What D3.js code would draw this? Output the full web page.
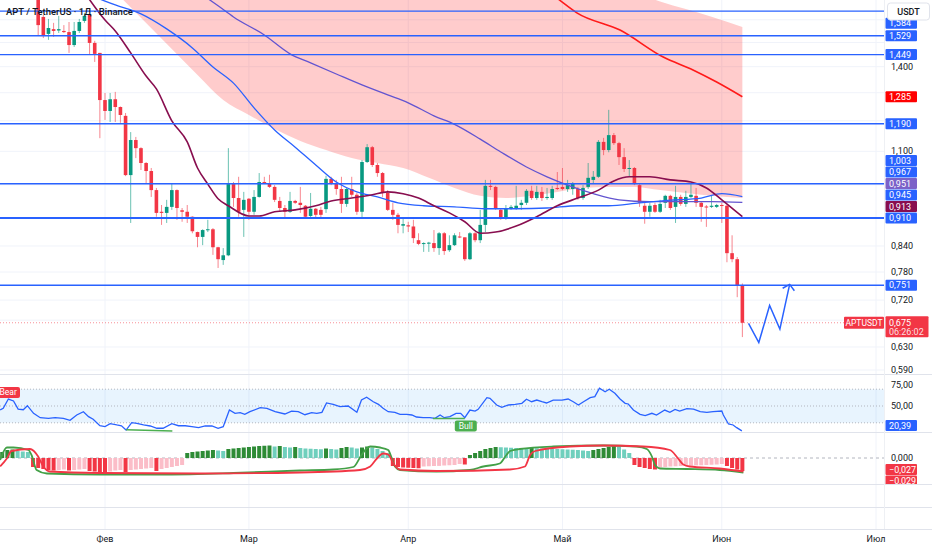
<!DOCTYPE html>
<html>
<head>
<meta charset="utf-8">
<script src="https://cdn.jsdelivr.net/npm/d3@7"></script>
<style>
body { margin: 0; background: #fff; }
svg { display: block; font-family: Roboto, "Noto Sans", sans-serif; }
</style>
</head>
<body>
<div id="container"></div>
<script>
//CANDLES (daily, first candle 19 Jan)
const firstCandle = '2025-01-19'
const opens = [1.72, 1.613, 1.537, 1.558, 1.552, 1.550, 1.545, 1.489, 1.550, 1.595,
  1.622, 1.498, 1.456, 1.273, 1.234, 1.276, 1.248, 1.217, 1.028, 1.136,
  1.110, 1.064, 1.040, 0.985, 0.926, 0.923, 0.939, 0.985, 0.930, 0.926,
  0.913, 0.874, 0.862, 0.879, 0.881, 0.837, 0.807, 0.818, 1.002, 0.963,
  0.931, 0.961, 0.926, 0.966, 1.008, 1.005, 0.994, 0.955, 0.936, 0.926,
  0.955, 0.950, 0.942, 0.915, 0.934, 0.931, 0.933, 1.017, 1.005, 0.988,
  0.947, 0.988, 0.972, 0.926, 1.067, 1.113, 1.058, 1.034, 0.977, 0.931,
  0.918, 0.890, 0.891, 0.888, 0.854, 0.845, 0.846, 0.847, 0.835, 0.871,
  0.830, 0.842, 0.863, 0.861, 0.809, 0.871, 0.854, 0.892, 0.997, 0.994,
  0.931, 0.910, 0.936, 0.936, 0.944, 0.950, 0.983, 0.963, 0.980, 0.963,
  0.963, 0.991, 0.994, 0.988, 0.988, 0.988, 0.963, 0.994, 1.014, 1.023,
  1.130, 1.104, 1.152, 1.126, 1.082, 1.046, 1.049, 0.999, 0.942, 0.926,
  0.944, 0.926, 0.950, 0.969, 0.939, 0.966, 0.947, 0.966, 0.969, 0.950,
  0.940, 0.939, 0.939, 0.944, 0.942, 0.823, 0.809, 0.751]
const highs = [1.76, 1.622, 1.604, 1.586, 1.618, 1.576, 1.590, 1.590, 1.604, 1.632,
  1.627, 1.507, 1.456, 1.299, 1.299, 1.303, 1.250, 1.227, 1.162, 1.146,
  1.113, 1.067, 1.049, 0.991, 0.944, 0.958, 1.005, 0.987, 0.936, 0.944,
  0.914, 0.875, 0.881, 0.905, 0.884, 0.838, 0.835, 1.110, 1.008, 1.023,
  0.980, 0.963, 0.985, 1.034, 1.023, 1.029, 0.999, 0.966, 0.944, 0.980,
  0.958, 0.994, 0.944, 0.977, 0.936, 0.939, 1.026, 1.023, 1.014, 1.023,
  0.991, 1.023, 0.977, 1.073, 1.123, 1.117, 1.064, 1.037, 0.985, 0.950,
  0.923, 0.910, 0.900, 0.905, 0.871, 0.849, 0.850, 0.879, 0.874, 0.874,
  0.866, 0.871, 0.874, 0.861, 0.874, 0.874, 0.931, 1.014, 1.014, 0.997,
  0.936, 0.944, 0.944, 0.997, 0.958, 0.988, 0.997, 0.997, 0.994, 0.991,
  0.997, 1.037, 1.049, 1.014, 1.008, 0.994, 0.999, 1.064, 1.040, 1.136,
  1.143, 1.238, 1.159, 1.130, 1.110, 1.073, 1.052, 1.002, 0.950, 0.950,
  0.950, 0.958, 0.972, 0.972, 0.997, 0.972, 0.983, 1.005, 0.991, 0.953,
  0.944, 0.969, 0.947, 0.950, 0.944, 0.866, 0.814, 0.755]
const lows = [1.532, 1.519, 1.511, 1.524, 1.541, 1.541, 1.456, 1.481, 1.541, 1.586,
  1.448, 1.419, 1.142, 1.203, 1.196, 1.196, 1.193, 1.025, 0.897, 1.079,
  1.043, 1.005, 0.966, 0.913, 0.892, 0.897, 0.931, 0.905, 0.900, 0.897,
  0.871, 0.837, 0.842, 0.874, 0.819, 0.789, 0.796, 0.816, 0.939, 0.913,
  0.862, 0.905, 0.918, 0.964, 1.002, 0.991, 0.952, 0.926, 0.910, 0.923,
  0.947, 0.923, 0.910, 0.910, 0.910, 0.910, 0.923, 0.999, 0.972, 0.923,
  0.939, 0.966, 0.918, 0.910, 1.064, 1.052, 1.023, 0.966, 0.928, 0.905,
  0.871, 0.871, 0.874, 0.847, 0.842, 0.826, 0.826, 0.826, 0.819, 0.819,
  0.826, 0.840, 0.859, 0.805, 0.807, 0.849, 0.847, 0.874, 0.985, 0.931,
  0.905, 0.905, 0.931, 0.931, 0.931, 0.944, 0.958, 0.958, 0.955, 0.958,
  0.958, 0.985, 0.985, 0.980, 0.972, 0.958, 0.958, 0.988, 1.005, 1.020,
  1.088, 1.097, 1.120, 1.058, 1.037, 1.023, 0.999, 0.939, 0.895, 0.913,
  0.923, 0.923, 0.936, 0.931, 0.897, 0.942, 0.939, 0.963, 0.939, 0.900,
  0.887, 0.936, 0.936, 0.897, 0.802, 0.802, 0.726, 0.648]
const closes = [1.576, 1.532, 1.563, 1.550, 1.558, 1.545, 1.489, 1.550, 1.590, 1.618,
  1.498, 1.452, 1.273, 1.234, 1.276, 1.248, 1.220, 1.028, 1.136, 1.110,
  1.064, 1.040, 0.985, 0.923, 0.923, 0.939, 0.985, 0.936, 0.926, 0.913,
  0.876, 0.862, 0.879, 0.881, 0.837, 0.809, 0.818, 1.002, 0.963, 0.926,
  0.958, 0.926, 0.966, 1.008, 1.004, 0.994, 0.958, 0.936, 0.926, 0.955,
  0.950, 0.944, 0.913, 0.934, 0.918, 0.918, 1.017, 1.005, 0.988, 0.947,
  0.988, 0.972, 0.926, 1.067, 1.113, 1.058, 1.034, 0.977, 0.931, 0.918,
  0.892, 0.894, 0.888, 0.859, 0.845, 0.847, 0.848, 0.835, 0.871, 0.828,
  0.842, 0.866, 0.861, 0.809, 0.871, 0.854, 0.892, 0.997, 0.994, 0.934,
  0.910, 0.936, 0.939, 0.942, 0.950, 0.983, 0.963, 0.980, 0.963, 0.966,
  0.988, 0.988, 0.988, 0.999, 1.005, 0.963, 0.991, 1.020, 1.023, 1.130,
  1.104, 1.152, 1.126, 1.082, 1.046, 1.049, 1.002, 0.950, 0.926, 0.942,
  0.926, 0.947, 0.969, 0.936, 0.966, 0.947, 0.966, 0.972, 0.950, 0.939,
  0.938, 0.942, 0.944, 0.942, 0.823, 0.809, 0.751, 0.675]

//OVERLAYS: [days after 1 Feb, price]
const maroonMA = [[-4, 1.73], [0, 1.599], [2, 1.550], [5, 1.456], [8, 1.363], [10, 1.314], [13, 1.200], [16, 1.130],
  [18, 1.049], [20, 1.002], [22, 0.961], [24, 0.942], [28, 0.915], [30, 0.915], [33, 0.926], [37, 0.931],
  [41, 0.942], [44, 0.955], [48, 0.963], [52, 0.972], [55, 0.980], [58, 0.975], [61, 0.963], [64, 0.942],
  [67, 0.923], [70, 0.900], [73, 0.871], [76, 0.874], [80, 0.889], [84, 0.913], [88, 0.942], [92, 0.963],
  [96, 0.985], [99, 1.011], [102, 1.023], [106, 1.023], [110, 1.014], [114, 1.008], [117, 0.991], [120, 0.958], [124, 0.913]]
const blueMA = [[-2, 1.707], [2, 1.669], [7, 1.627], [12, 1.559], [17, 1.477], [21, 1.399], [25, 1.336], [29, 1.245],
  [33, 1.169], [37, 1.113], [41, 1.058], [45, 1.008], [49, 0.980], [53, 0.966], [57, 0.950], [62, 0.942],
  [68, 0.939], [74, 0.934], [80, 0.934], [86, 0.936], [92, 0.942], [98, 0.942], [104, 0.950], [110, 0.957],
  [116, 0.963], [120, 0.975], [124, 0.967]]
const purpleMA = [[20, 1.70], [22, 1.665], [25, 1.613], [31, 1.532], [36, 1.452], [40, 1.415], [45, 1.371], [50, 1.329],
  [55, 1.292], [59, 1.263], [64, 1.217], [68, 1.188], [73, 1.139], [77, 1.098], [82, 1.052], [86, 1.023],
  [90, 0.999], [95, 0.975], [100, 0.958], [106, 0.953], [112, 0.953], [118, 0.953], [124, 0.951]]
const redMA = [[84, 1.78], [88.4, 1.693], [91.8, 1.632], [100.2, 1.554], [108.6, 1.439], [114.4, 1.387], [119, 1.340], [124, 1.285]]
const cloudUpper = [[3, 2.4], [40, 2.2], [70, 2.0], [90, 1.85], [100, 1.76], [106, 1.70], [111, 1.665], [116, 1.627], [120, 1.60], [124, 1.567]]
const cloudLower = [[3, 1.707], [8, 1.586], [13, 1.472], [18, 1.367], [23, 1.273], [28, 1.220], [33, 1.172], [38, 1.133],
  [43, 1.104], [48, 1.079], [53, 1.064], [58, 1.049], [63, 1.020], [68, 0.991], [73, 0.969], [78, 0.963],
  [83, 0.969], [88, 0.980], [93, 0.991], [98, 0.994], [103, 0.994], [108, 0.985], [113, 0.977], [118, 0.969], [124, 0.963]]
const levels = [1.64, 1.529, 1.449, 1.190, 1.003, 0.910, 0.751]
const forecast = [[125.2, 0.674], [127.2, 0.638], [129.3, 0.709], [131.3, 0.663], [133.2, 0.753]]
const extraLabels = [1.584, 0.945]

//RSI PANE
const rsi = [[-20.4, 45.2], [-19.8, 47.2], [-18.8, 58.3], [-17.8, 56], [-16.9, 46.4], [-15.9, 45.6], [-15.1, 50.4], [-13.9, 41.3],
  [-12.6, 36.1], [-11, 35.3], [-9.7, 36.1], [-8.1, 35.3], [-6.8, 33], [-5.5, 39.3], [-4.2, 43.2], [-3.2, 37.3],
  [-2.3, 34.2], [-1, 26.5], [0, 25.4], [1, 28.9], [2.3, 27.4], [3.2, 26.5], [4.1, 21.4], [5.2, 30.1],
  [6.2, 29.4], [7.5, 27.4], [8.8, 26.2], [10.1, 23.5], [11.3, 23.5], [13, 28.9], [14.3, 26.5], [15.6, 26.5],
  [16.9, 25.4], [18.2, 24.2], [19.5, 26.2], [20.8, 26.2], [22, 23.5], [23, 25.4], [24.2, 45.2], [25.3, 41.3],
  [26.3, 42], [27.2, 40.1], [28.2, 43.2], [30.2, 48], [31.5, 47.2], [33.1, 43.2], [35, 40.5], [36.3, 44],
  [37.6, 43.2], [38.9, 39.6], [40.2, 42], [41.2, 41.3], [42.2, 42.5], [43.1, 53.6], [44.4, 52], [45.7, 49.2],
  [47.3, 50], [49, 42.5], [49.9, 57.1], [50.9, 60.4], [52.2, 55.1], [53.2, 52], [54.1, 47.2], [55.1, 43.2],
  [56.4, 42.5], [57.4, 40.1], [58.7, 40.1], [59.7, 39.3], [60.6, 36.9], [61.9, 36.1], [63.2, 36.1], [64.2, 35.3],
  [65.2, 39.3], [66, 36.1], [67.1, 37.3], [68.3, 41.3], [69.2, 41.3], [70, 36.1], [71, 45.2], [72, 44],
  [72.6, 46], [74.3, 59.9], [74.9, 59.2], [76.2, 51.2], [77.2, 48.4], [78.5, 51.2], [79.8, 52], [81.1, 53.2],
  [82, 58], [83, 55.1], [84, 57.1], [85, 55.1], [85.9, 53.6], [87.2, 57.1], [88.9, 57.1], [90.1, 58.3],
  [91.1, 55.1], [92.1, 51.2], [93.1, 55.1], [94.4, 59.9], [95.3, 61.1], [96.2, 71.1], [97.3, 67], [98.1, 69.9],
  [99.2, 65.1], [100.2, 58.3], [101.2, 53.2], [101.8, 52.4], [102.8, 45.2], [104.1, 40.1], [105.1, 38.5], [106.4, 41.3],
  [107.3, 39.3], [108.9, 45.2], [109.9, 42.5], [110.9, 46], [111.8, 44], [113.2, 46.8], [114.5, 46.4], [115.8, 43.2],
  [117.1, 42.5], [118.3, 43.2], [120, 44], [120.3, 39.3], [121.3, 28.6], [122.2, 27.4], [122.9, 24.2], [123.9, 20.39]]
const bullDivergence = [[[4.1, 21.8], [13.1, 20.2]], [[63.8, 35], [70, 35]]]
const rsiTicks = [25, 50, 75]
const rsiBand = [30, 70]

//OSCILLATOR PANE (histogram from day -20)
const histStart = -20
const hist = [0.012, 0.016, 0.017, 0.014, 0.013, 0.012, -0.018, -0.020, -0.022, -0.024,
  -0.025, -0.024, -0.023, -0.025, -0.024, -0.023, -0.022, -0.026, -0.027, -0.028,
  -0.029, -0.027, -0.025, -0.024, -0.028, -0.024, -0.023, -0.022, -0.021, -0.020,
  -0.026, -0.022, -0.020, -0.018, -0.016, -0.014, 0.010, 0.012, 0.013, 0.014,
  0.015, 0.016, 0.015, 0.014, 0.018, 0.019, 0.020, 0.021, 0.022, 0.023,
  0.024, 0.0245, 0.025, 0.023, 0.024, 0.022, 0.021, 0.022, 0.020, 0.019,
  0.0185, 0.018, 0.0175, 0.019, 0.018, 0.017, 0.020, 0.022, 0.021, 0.019,
  0.021, 0.023, 0.021, 0.018, 0.014, 0.010, -0.016, -0.018, -0.019, -0.0195,
  -0.020, -0.0205, -0.017, -0.0165, -0.016, -0.0158, -0.015, -0.0145, -0.014, -0.012,
  -0.013, 0.006, 0.010, 0.014, 0.018, 0.020, 0.022, 0.0215, 0.021, 0.0205,
  0.020, 0.019, 0.0185, 0.020, 0.0195, 0.019, 0.0188, 0.0185, 0.018, 0.0175,
  0.017, 0.0165, 0.016, 0.015, 0.014, 0.016, 0.018, 0.020, 0.022, 0.024,
  0.022, 0.017, 0.010, -0.014, -0.018, -0.020, -0.022, -0.023, -0.019, -0.018,
  -0.017, -0.0165, -0.016, -0.0155, -0.015, -0.0148, -0.0145, -0.014, -0.0135, -0.013,
  -0.012, -0.016, -0.020, -0.023, -0.026]
const fastLine = [[-20.4, -0.004], [-19.1, 0.021], [-17.8, 0.021], [-14.9, 0.016], [-14.3, 0.006], [-13.3, -0.024], [-11.3, -0.031],
  [-1, -0.033], [12, -0.033], [25, -0.030], [37.9, -0.025], [44.4, -0.023], [48.3, -0.018], [49.9, 0.006], [50.9, 0.019],
  [51.6, 0.023], [53.5, 0.021], [55.1, 0.016], [55.8, -0.001], [56.4, -0.017], [57.4, -0.024], [64.5, -0.027], [71, -0.024],
  [73.6, -0.017], [76.8, -0.011], [78.1, 0.006], [78.8, 0.014], [80.7, 0.018], [87.2, 0.023], [96.9, 0.025], [103.4, 0.023],
  [105.4, 0.018], [106.4, 0.003], [107, -0.014], [108, -0.021], [113.2, -0.022], [119.6, -0.024], [124.2, -0.029]]
const slowLine = [[-20.4, -0.017], [-19.1, -0.001], [-18.2, 0.014], [-14.6, 0.018], [-13, 0.003], [-12, -0.017], [-10.7, -0.027],
  [-1, -0.030], [18.5, -0.031], [37.9, -0.029], [49.6, -0.024], [51.6, -0.017], [52.9, -0.001], [54.1, 0.009], [55.1, 0.007],
  [56.1, -0.011], [57.4, -0.023], [64.5, -0.026], [78.8, -0.023], [81.7, -0.017], [82.7, 0.006], [83.7, 0.014], [90.5, 0.023],
  [96.9, 0.025], [104.7, 0.023], [109.9, 0.016], [111.5, -0.001], [112.5, -0.013], [113.8, -0.017], [119.6, -0.021], [124.2, -0.027]]

//AXIS TEXT
const priceTicks = [0.59, 0.63, 0.68, 0.72, 0.78, 0.84, 0.91, 1.0, 1.1, 1.2, 1.3, 1.4, 1.5, 1.6]
const monthLabels = ['Фев', 'Мар', 'Апр', 'Май', 'Июн', 'Июл']
const title = 'APT / TetherUS · 1Д · Binance'
const symbol = 'APTUSDT'
const countdown = '06:26:02'

//BOX
const w = 932
const h = 550
const plotRight = 884
const pricePane = [0, 374]
const rsiPane = [374, 432]
const oscPane = [432, 484]
const axisLine = 529

const GREEN = '#089981', RED = '#f23645', BLUE = '#2962ff'

//SCALES
const feb1 = Date.UTC(2025, 1, 1)
const dayDate = d => new Date(feb1 + d * 864e5)
const xscale = d3.scaleUtc()
    .domain([dayDate(0), new Date(Date.UTC(2025, 6, 1))])
    .range([105, 876])
const xd = d => xscale(dayDate(d))
const yscale = d3.scaleLog().domain([0.59, 1.6]).range([370, 19.8])
const rsiScale = d3.scaleLinear().domain([0, 100]).range([448, 364])
const oscScale = d3.scaleLinear().domain([-0.05, 0.05]).range([483, 433])

const fmt = p => v => d3.format('.' + p + 'f')(v).replace('.', ',')

const svg = d3.select('#container')
    .append('svg')
    .attr('width', w)
    .attr('height', h)

svg.append('rect').attr('width', w).attr('height', h).attr('fill', '#fff')

//CLIPPING PATHS
const defs = svg.append('defs')
const clip = (id, y0, y1, x0 = 0, x1 = plotRight) => defs.append('clipPath').attr('id', id)
    .append('rect').attr('x', x0).attr('y', y0).attr('width', x1 - x0).attr('height', y1 - y0)
clip('price-area', pricePane[0], pricePane[1])
clip('rsi-area', rsiPane[0], rsiPane[1])
clip('osc-area', oscPane[0], oscPane[1])
clip('osc-axis', oscPane[0], oscPane[1], plotRight, w)

//GRID
const months = d3.utcMonth.range(dayDate(0), new Date(Date.UTC(2025, 6, 2)))
svg.append('g')
    .selectAll('line')
    .data(months)
    .enter()
    .append('line')
    .attr('x1', d => xscale(d)).attr('x2', d => xscale(d))
    .attr('y1', 0).attr('y2', axisLine)
    .attr('stroke', '#f0f3fa')

svg.append('g')
    .attr('clip-path', 'url(#price-area)')
    .selectAll('line')
    .data(priceTicks)
    .enter()
    .append('line')
    .attr('x1', 0).attr('x2', plotRight)
    .attr('y1', d => yscale(d)).attr('y2', d => yscale(d))
    .attr('stroke', '#f0f3fa')

//PANE SEPARATORS
svg.append('g')
    .selectAll('line')
    .data([pricePane[1], rsiPane[1], oscPane[1], 507, axisLine])
    .enter()
    .append('line')
    .attr('x1', 0).attr('x2', w)
    .attr('y1', d => d + 0.5).attr('y2', d => d + 0.5)
    .attr('stroke', '#e0e3eb')
svg.append('line')
    .attr('x1', plotRight + 0.5).attr('x2', plotRight + 0.5)
    .attr('y1', 0).attr('y2', axisLine)
    .attr('stroke', '#eef0f4')

const price = svg.append('g').attr('clip-path', 'url(#price-area)')

//CLOUD
const upperAt = d3.scaleLinear().domain(cloudUpper.map(d => d[0])).range(cloudUpper.map(d => Math.log(d[1])))
price.append('path')
    .datum(cloudLower)
    .attr('fill', 'rgba(255,0,0,0.2)')
    .attr('d', d3.area()
        .curve(d3.curveMonotoneX)
        .x(d => xd(d[0]))
        .y0(d => yscale(d[1]))
        .y1(d => yscale(Math.exp(upperAt(d[0])))))

//CANDLES
const start = new Date(firstCandle + 'T00:00:00Z')
const candles = opens.map((o, i) => ({
    date: d3.utcDay.offset(start, i), o: o, hi: highs[i], lo: lows[i], c: closes[i]
}))
const bodyW = 3.6
const cg = price.append('g').attr('id', 'candles')
cg.selectAll('line')
    .data(candles)
    .enter()
    .append('line')
    .attr('x1', d => xscale(d.date)).attr('x2', d => xscale(d.date))
    .attr('y1', d => yscale(d.hi)).attr('y2', d => yscale(d.lo))
    .attr('stroke', d => d.c >= d.o ? GREEN : RED)
    .attr('stroke-opacity', 0.6)
    .attr('stroke-width', 1)
cg.selectAll('rect')
    .data(candles)
    .enter()
    .append('rect')
    .attr('x', d => xscale(d.date) - bodyW / 2)
    .attr('y', d => yscale(Math.max(d.o, d.c)))
    .attr('width', bodyW)
    .attr('height', d => Math.max(1, yscale(Math.min(d.o, d.c)) - yscale(Math.max(d.o, d.c))))
    .attr('fill', d => d.c >= d.o ? GREEN : RED)

//MOVING AVERAGES
const maLine = d3.line().curve(d3.curveMonotoneX).x(d => xd(d[0])).y(d => yscale(d[1]))
const maDefs = [[purpleMA, '#6254d0', 1.3], [blueMA, BLUE, 1.3], [maroonMA, '#880e4f', 1.6], [redMA, '#ff1a1a', 1.6]]
maDefs.forEach(m => {
    price.append('path')
        .datum(m[0])
        .attr('fill', 'none')
        .attr('stroke', m[1])
        .attr('stroke-width', m[2])
        .attr('d', maLine)
})

//HORIZONTAL LEVELS
price.append('g')
    .selectAll('line')
    .data(levels)
    .enter()
    .append('line')
    .attr('x1', 0).attr('x2', plotRight)
    .attr('y1', d => yscale(d)).attr('y2', d => yscale(d))
    .attr('stroke', BLUE)
    .attr('stroke-width', d => d === 0.910 ? 2 : 1.4)

//LAST PRICE LINE
const last = candles[candles.length - 1]
price.append('line')
    .attr('x1', 0).attr('x2', 844)
    .attr('y1', yscale(last.c)).attr('y2', yscale(last.c))
    .attr('stroke', RED)
    .attr('stroke-opacity', 0.55)
    .attr('stroke-dasharray', '1,2')

//FORECAST PATH
const fpts = forecast.map(d => [xd(d[0]), yscale(d[1])])
svg.append('path')
    .attr('d', d3.line()(fpts))
    .attr('fill', 'none')
    .attr('stroke', BLUE)
    .attr('stroke-width', 1.5)
const tip = fpts[fpts.length - 1], prev = fpts[fpts.length - 2]
const back = Math.atan2(prev[1] - tip[1], prev[0] - tip[0])
const wing = a => [tip[0] + 8 * Math.cos(back + a), tip[1] + 8 * Math.sin(back + a)]
svg.append('path')
    .attr('d', d3.line()([wing(0.85), tip, wing(-0.85)]))
    .attr('fill', 'none')
    .attr('stroke', BLUE)
    .attr('stroke-width', 1.5)

//TITLE
svg.append('text')
    .attr('x', 6).attr('y', 14.5)
    .attr('font-size', 9.5).attr('font-weight', 500)
    .attr('fill', '#131722')
    .text(title)

//PRICE AXIS LABELS (stacked like the terminal does)
const plabels = levels.map(v => ({v: v, c: BLUE}))
    .concat(extraLabels.map(v => ({v: v, c: BLUE})))
    .concat([
        {v: redMA[redMA.length - 1][1], c: '#ff0000'},
        {v: blueMA[blueMA.length - 1][1], c: BLUE},
        {v: purpleMA[purpleMA.length - 1][1], c: '#7b61c8'},
        {v: maroonMA[maroonMA.length - 1][1], c: '#880e4f'}
    ])
plabels.forEach(l => l.y = yscale(l.v))
plabels.sort((a, b) => b.y - a.y)
for (let i = 1; i < plabels.length; i++) {
    plabels[i].y = Math.min(plabels[i].y, plabels[i - 1].y - 11.5)
}
const lastY = yscale(last.c)
const covered = [lastY + 3.5].concat(plabels.filter(l => l.y > 15).map(l => l.y))

//PRICE AXIS TICKS (a tick hidden under a label box is not drawn)
const axisText = (g, y, txt, color) => g.append('text')
    .attr('x', 891).attr('y', y).attr('dy', '0.35em')
    .attr('font-size', 9).attr('fill', color || '#131722')
    .text(txt)
const axisG = svg.append('g')
priceTicks
    .filter(t => yscale(t) > 30 && covered.every(cy => Math.abs(cy - yscale(t)) > 8.5))
    .forEach(t => axisText(axisG, yscale(t), fmt(3)(t)))

const box = (g, y, txt, color, bw = 31.5) => {
    g.append('rect').attr('x', 885.5).attr('y', y - 5.5).attr('width', bw).attr('height', 11)
        .attr('rx', 1).attr('fill', color)
    g.append('text').attr('x', 889).attr('y', y).attr('dy', '0.35em')
        .attr('font-size', 9).attr('fill', '#fff').text(txt)
}
const labG = svg.append('g')
plabels.filter(l => l.y > 17).forEach(l => box(labG, l.y, fmt(3)(l.v), l.c))

//LAST PRICE LABELS
const ly = lastY
svg.append('rect').attr('x', 844).attr('y', ly - 6).attr('width', 40).attr('height', 12).attr('rx', 1).attr('fill', RED)
svg.append('text').attr('x', 864).attr('y', ly).attr('dy', '0.35em').attr('text-anchor', 'middle')
    .attr('font-size', 8.5).attr('fill', '#fff').text(symbol)
svg.append('rect').attr('x', 885.5).attr('y', ly - 6.5).attr('width', 43).attr('height', 21).attr('rx', 1).attr('fill', RED)
svg.append('text').attr('x', 889).attr('y', ly).attr('dy', '0.35em')
    .attr('font-size', 9).attr('fill', '#fff').text(fmt(3)(last.c))
svg.append('text').attr('x', 889).attr('y', ly + 9.5).attr('dy', '0.35em')
    .attr('font-size', 9).attr('fill', '#fff').attr('fill-opacity', 0.85).text(countdown)

//CURRENCY BOX
svg.append('rect').attr('x', 887.5).attr('y', 3).attr('width', 42).attr('height', 17).attr('rx', 3)
    .attr('fill', '#fff').attr('stroke', '#e0e3eb')
svg.append('text').attr('x', 908.5).attr('y', 11.5).attr('dy', '0.35em').attr('text-anchor', 'middle')
    .attr('font-size', 9).attr('font-weight', 500).attr('fill', '#131722').text('USDT')

//RSI PANE
const rsiG = svg.append('g').attr('clip-path', 'url(#rsi-area)')
rsiG.append('rect')
    .attr('x', 0).attr('width', plotRight)
    .attr('y', rsiScale(rsiBand[1])).attr('height', rsiScale(rsiBand[0]) - rsiScale(rsiBand[1]))
    .attr('fill', 'rgba(33,150,243,0.1)')
rsiG.selectAll('line.lvl')
    .data([rsiBand[1], 50, rsiBand[0]])
    .enter()
    .append('line')
    .attr('x1', 0).attr('x2', plotRight)
    .attr('y1', d => rsiScale(d)).attr('y2', d => rsiScale(d))
    .attr('stroke', '#b2b5be')
    .attr('stroke-dasharray', '1,2')
rsiG.append('path')
    .datum(rsi)
    .attr('fill', 'none')
    .attr('stroke', BLUE)
    .attr('stroke-width', 1.3)
    .attr('d', d3.line().x(d => xd(d[0])).y(d => rsiScale(d[1])))
bullDivergence.forEach(seg => {
    rsiG.append('line')
        .attr('x1', xd(seg[0][0])).attr('y1', rsiScale(seg[0][1]))
        .attr('x2', xd(seg[1][0])).attr('y2', rsiScale(seg[1][1]))
        .attr('stroke', '#4caf50').attr('stroke-width', 1.5)
})
const bullEnd = bullDivergence[1][1]
rsiG.append('rect').attr('x', xd(bullEnd[0]) - 10).attr('y', rsiScale(bullEnd[1]) + 2)
    .attr('width', 22).attr('height', 11).attr('rx', 2).attr('fill', '#4caf50')
rsiG.append('text').attr('x', xd(bullEnd[0]) + 1).attr('y', rsiScale(bullEnd[1]) + 7.5).attr('dy', '0.35em')
    .attr('text-anchor', 'middle').attr('font-size', 8.5).attr('fill', '#fff').text('Bull')
rsiG.append('rect').attr('x', -3).attr('y', 387).attr('width', 23).attr('height', 11).attr('rx', 2).attr('fill', RED)
rsiG.append('text').attr('x', -0.5).attr('y', 392.5).attr('dy', '0.35em')
    .attr('font-size', 8.5).attr('fill', '#fff').text('Bear')

const rsiLast = rsi[rsi.length - 1][1]
const rsiLabelY = Math.min(rsiScale(rsiLast), rsiPane[1] - 6.5)
rsiTicks
    .filter(t => Math.abs(rsiScale(t) - rsiLabelY) > 8.5)
    .forEach(t => axisText(svg, rsiScale(t), fmt(2)(t)))
box(svg, rsiLabelY, fmt(2)(rsiLast), BLUE)

//OSCILLATOR PANE
const oscG = svg.append('g').attr('clip-path', 'url(#osc-area)')
oscG.append('line')
    .attr('x1', 0).attr('x2', plotRight)
    .attr('y1', oscScale(0)).attr('y2', oscScale(0))
    .attr('stroke', '#b2b5be')
    .attr('stroke-dasharray', '3,3')
const histColor = (v, i) => {
    const p = i > 0 ? hist[i - 1] : v
    if (v >= 0) return v >= p ? '#2e8b36' : '#70cfbd'
    return v <= p ? RED : '#fbbdc8'
}
oscG.selectAll('rect')
    .data(hist)
    .enter()
    .append('rect')
    .attr('x', (d, i) => xd(histStart + i) - 2)
    .attr('width', 4)
    .attr('y', d => oscScale(Math.max(0, d)))
    .attr('height', d => Math.abs(oscScale(d) - oscScale(0)))
    .attr('fill', histColor)
const oscLine = d3.line().curve(d3.curveMonotoneX).x(d => xd(d[0])).y(d => oscScale(d[1]))
oscG.append('path').datum(fastLine).attr('fill', 'none').attr('stroke', '#43a047').attr('stroke-width', 1.8).attr('d', oscLine)
oscG.append('path').datum(slowLine).attr('fill', 'none').attr('stroke', RED).attr('stroke-width', 1.8).attr('d', oscLine)

axisText(svg, oscScale(0), fmt(3)(0))
const oscAxis = svg.append('g').attr('clip-path', 'url(#osc-axis)')
const oscLabels = [slowLine[slowLine.length - 1][1], fastLine[fastLine.length - 1][1]]
let oy = oscScale(oscLabels[0]) - 2
oscLabels.forEach(v => {
    box(oscAxis, oy, fmt(3)(v), RED)
    oy += 11.5
})

//TIME AXIS
svg.append('g')
    .selectAll('text')
    .data(months)
    .enter()
    .append('text')
    .attr('x', d => xscale(d))
    .attr('y', 539)
    .attr('dy', '0.35em')
    .attr('text-anchor', 'middle')
    .attr('font-size', 9)
    .attr('fill', '#131722')
    .text((d, i) => monthLabels[i])
</script>
</body>
</html>
